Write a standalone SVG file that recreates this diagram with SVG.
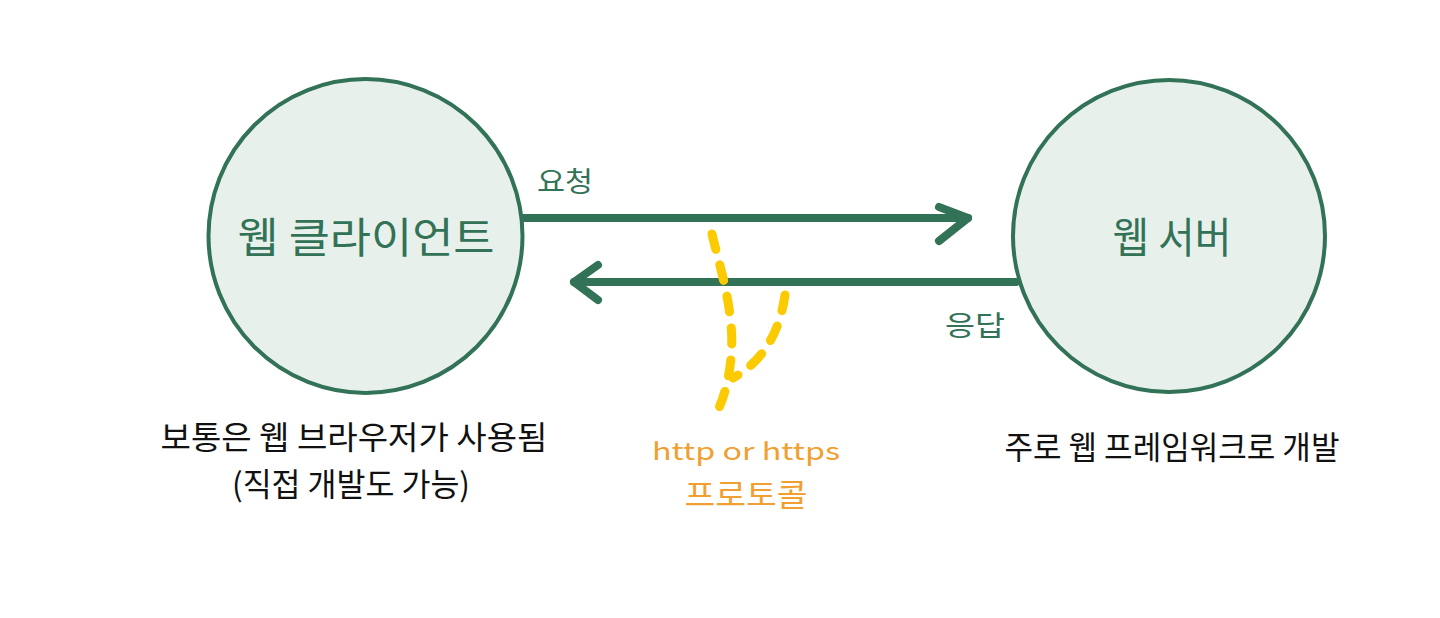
<svg xmlns="http://www.w3.org/2000/svg" width="1440" height="618" viewBox="0 0 1440 618">
<style>
.node{fill:#e8f0ec;stroke:#327256;stroke-width:4}
.ntext{font-family:"Noto Sans CJK KR",sans-serif;font-size:42px;fill:#327256;text-anchor:middle}
.lbl{font-family:"Noto Sans CJK KR",sans-serif;font-size:28px;fill:#327256}
.note{font-family:"Noto Sans CJK KR",sans-serif;font-size:32px;fill:#111;text-anchor:middle}
.proto{font-family:"Noto Sans CJK KR",sans-serif;fill:#f0a030;text-anchor:middle}
.arrow{stroke:#327256;stroke-width:8;fill:none;stroke-linecap:round;stroke-linejoin:round}
.dash{stroke:#fcca00;stroke-width:9;fill:none;stroke-linecap:round;stroke-dasharray:16 16}
</style>
<rect width="1440" height="618" fill="#ffffff"/>
<g id="connectors">
<path class="arrow" d="M521 218 H968"/>
<path class="arrow" d="M939 207 L968 218 L939 241"/>
<path class="arrow" d="M1016 282 H574"/>
<path class="arrow" d="M598 265 L574 282 L598 300"/>
<text class="lbl" x="537" y="192" textLength="56" lengthAdjust="spacingAndGlyphs">요청</text>
<text class="lbl" x="945" y="336" textLength="60" lengthAdjust="spacingAndGlyphs">응답</text>
</g>
<g id="protocol">
<path class="dash" d="M712 234 C718 260 728 290 731 325 C734 355 728 390 717 412"/>
<path class="dash" d="M785 295 C780 330 765 360 733 378"/>
<text class="proto" x="746" y="460" font-size="24" textLength="188" lengthAdjust="spacingAndGlyphs">http or https</text>
<text class="proto" x="746" y="506" font-size="31" textLength="123" lengthAdjust="spacingAndGlyphs">프로토콜</text>
</g>
<g id="client">
<circle class="node" cx="365.5" cy="236" r="157"/>
<text class="ntext" x="366" y="253" textLength="257" lengthAdjust="spacingAndGlyphs">웹 클라이언트</text>
<text class="note" x="354" y="449" textLength="387" lengthAdjust="spacingAndGlyphs">보통은 웹 브라우저가 사용됨</text>
<text class="note" x="351" y="496" textLength="238" lengthAdjust="spacingAndGlyphs">(직접 개발도 가능)</text>
</g>
<g id="server">
<circle class="node" cx="1169" cy="236" r="156"/>
<text class="ntext" x="1172" y="253" textLength="119" lengthAdjust="spacingAndGlyphs">웹 서버</text>
<text class="note" x="1172" y="459" textLength="335" lengthAdjust="spacingAndGlyphs">주로 웹 프레임워크로 개발</text>
</g>
</svg>
